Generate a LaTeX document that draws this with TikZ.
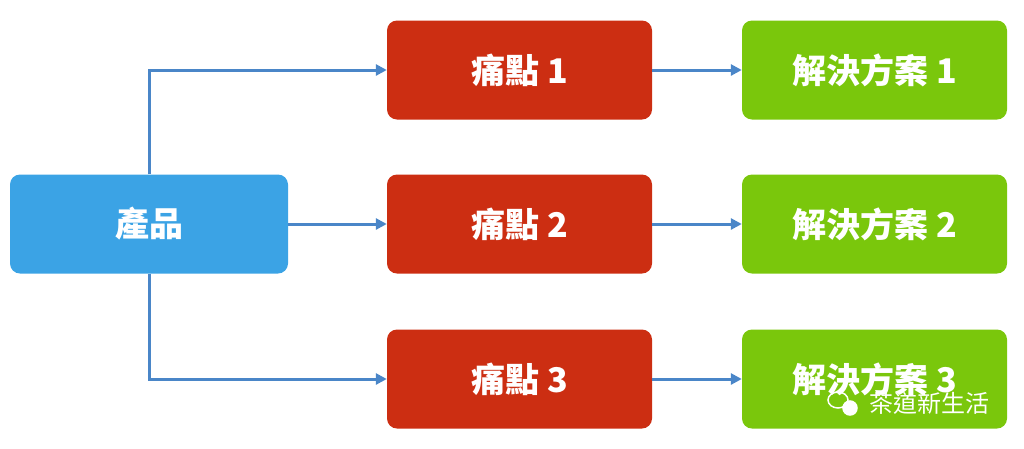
\documentclass[tikz,border=0pt]{standalone}
\usepackage{fontspec}
\newfontfamily\cjk{Noto Sans CJK TC}
\usetikzlibrary{arrows.meta,shapes.geometric}
\definecolor{pblue}{HTML}{3BA3E5}
\definecolor{pred}{HTML}{CC2E12}
\definecolor{pgreen}{HTML}{7AC70C}
\definecolor{ablue}{HTML}{4A86C8}
\tikzset{
 box/.style={rounded corners=10pt,minimum width=265pt,minimum height=99pt,inner sep=0pt,text=white,font=\cjk\bfseries\fontsize{34}{38}\selectfont},
 conn/.style={ablue,line width=3pt,-{Triangle[length=11pt,width=11pt]}}
}
\begin{document}
\begin{tikzpicture}[x=1pt,y=-1pt]
\useasboundingbox (0,0) rectangle (1024,448);
\node[box,fill=pblue,minimum width=278pt] (p) at (149,224) {產品};
\node[box,fill=pred] (r1) at (519.5,70) {痛點 1};
\node[box,fill=pred] (r2) at (519.5,224) {痛點 2};
\node[box,fill=pred] (r3) at (519.5,379) {痛點 3};
\node[box,fill=pgreen] (g1) at (874.5,70) {解決方案 1};
\node[box,fill=pgreen] (g2) at (874.5,224) {解決方案 2};
\node[box,fill=pgreen] (g3) at (874.5,379) {解決方案 3};
\draw[conn] (p.north) |- (r1.west);
\draw[conn] (p.east) -- (r2.west);
\draw[conn] (p.south) |- (r3.west);
\draw[conn] (r1) -- (g1);
\draw[conn] (r2) -- (g2);
\draw[conn] (r3) -- (g3);
\node[text=white,font=\cjk\fontsize{24}{26}\selectfont,anchor=west] (wm) at (866,403) {茶道新生活};
\node[draw=white,line width=1.5pt,ellipse,minimum width=20pt,minimum height=16pt,inner sep=0pt] (ic1) at (838,400) {};
\node[draw=white,fill=white,line width=1.5pt,circle,minimum size=14pt,inner sep=0pt] (ic2) at (850,408) {};
\end{tikzpicture}
\end{document}
